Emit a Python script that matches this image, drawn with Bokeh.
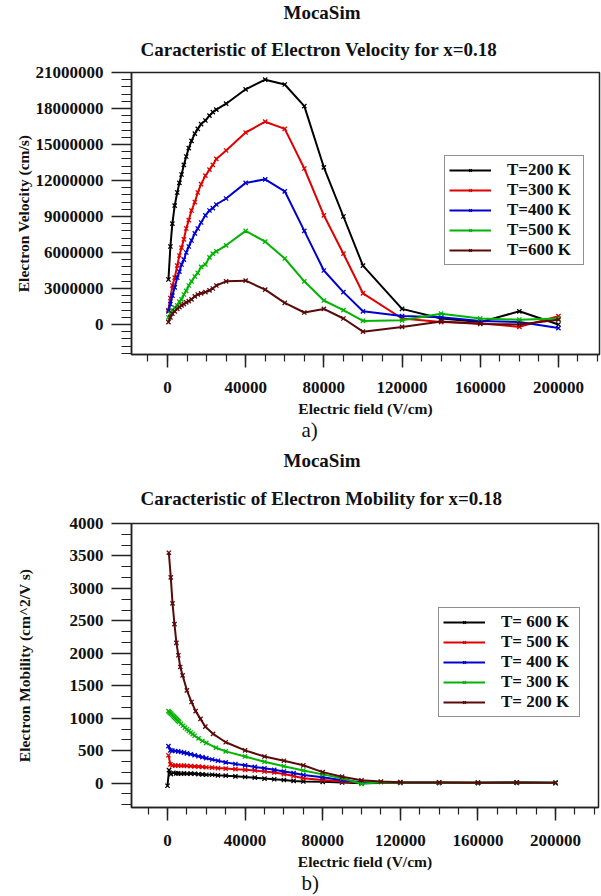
from bokeh.plotting import figure
from bokeh.layouts import column
from bokeh.models import (SingleIntervalTicker, BasicTickFormatter, Legend,
                          LegendItem, Range1d, Title)
from bokeh.embed import file_html
from bokeh.resources import INLINE

FONT = "Liberation Serif"

# ---------------- data: velocity ----------------
vel_field = [500, 1500, 2500, 3700, 5000, 6100, 7200, 8400, 9600, 10900, 12300, 14000,
             15500, 17200, 19400, 21500, 23200, 25000, 30000, 40000, 50000, 60000, 70000,
             80000, 90000, 100000, 120000, 140000, 160000, 180000, 200000]
vel_200 = [3750000, 6500000, 8400000, 9900000, 11000000, 11800000, 12500000, 13300000,
           14000000, 14700000, 15300000, 15900000, 16300000, 16700000, 17000000, 17400000,
           17700000, 17900000, 18400000, 19600000, 20400000, 20000000, 18200000, 13100000,
           9000000, 4900000, 1300000, 500000, 200000, 1100000, 0]
vel_300 = [1200000, 2200000, 3250000, 3900000, 4900000, 5750000, 6400000, 7100000,
           8000000, 8700000, 9500000, 10200000, 11000000, 11700000, 12400000, 12900000,
           13300000, 13800000, 14500000, 16000000, 16900000, 16300000, 13000000, 9100000,
           5900000, 2600000, 500000, 200000, 100000, -200000, 700000]
vel_400 = [1100000, 1700000, 2400000, 3100000, 3900000, 4400000, 5000000, 5400000,
           6000000, 6500000, 7000000, 7600000, 8000000, 8500000, 9100000, 9500000,
           9700000, 10000000, 10500000, 11800000, 12100000, 11100000, 7800000, 4500000,
           2700000, 1100000, 700000, 600000, 300000, 200000, -300000]
vel_500 = [600000, 900000, 1200000, 1400000, 1600000, 1900000, 2100000, 2500000,
           2800000, 3250000, 3600000, 4000000, 4300000, 4800000, 5000000, 5600000,
           5900000, 6100000, 6600000, 7800000, 6900000, 5500000, 3600000, 2000000,
           1200000, 300000, 350000, 900000, 500000, 400000, 500000]
vel_600 = [200000, 600000, 900000, 1100000, 1300000, 1450000, 1600000, 1700000,
           1850000, 1950000, 2100000, 2350000, 2500000, 2600000, 2700000, 2850000,
           3000000, 3250000, 3600000, 3650000, 2900000, 1800000, 1000000, 1300000,
           500000, -600000, -200000, 250000, 50000, 0, 400000]
vel_labels = ["T=200 K", "T=300 K", "T=400 K", "T=500 K", "T=600 K"]

# ---------------- data: mobility ----------------
mob_field_600 = [0, 800, 1800, 3000, 4500, 5500, 7000, 8500, 10000, 12000, 14000, 16000,
                 18000, 20000, 23000, 26000, 30000, 35000, 40000, 45000, 50000, 55000,
                 60000, 65000, 70000, 80000, 90000, 100000, 120000, 140000, 160000,
                 180000, 200000]
mob_600 = [-40, 200, 140, 160, 150, 150, 145, 150, 145, 148, 145, 140, 135, 130, 130,
           120, 115, 105, 95, 85, 70, 60, 48, 35, 25, 20, 10, 0, 5, 5, 3, 5, 3]
mob_field_mid = [500, 1500, 2500, 4000, 5500, 7000, 8500, 10000, 12000, 14000, 16000,
                 18000, 20000, 23000, 26000, 30000, 35000, 40000, 45000, 50000, 55000,
                 60000, 65000, 70000, 80000, 90000, 100000, 120000, 140000, 160000,
                 180000, 200000]
mob_500 = [430, 290, 275, 270, 272, 268, 270, 265, 262, 258, 255, 250, 245, 240, 232,
           225, 215, 205, 195, 180, 165, 140, 110, 75, 50, 25, 10, 8, 5, 5, 8, 4]
mob_400 = [570, 505, 500, 495, 490, 480, 470, 460, 445, 430, 415, 400, 385, 365, 345,
           320, 295, 275, 250, 230, 205, 180, 155, 125, 90, 45, 15, 10, 8, 5, 8, 5]
mob_field_300 = [500, 1000, 1500, 2000, 2500, 3000, 3500, 4000, 4500, 5000, 5500, 6000,
                 7000, 8000, 9000, 10000, 11000, 12000, 13000, 14000, 16000, 18000, 20000,
                 25000, 30000, 40000, 50000, 60000, 70000, 80000, 90000, 100000, 110000,
                 120000, 140000, 160000, 180000, 200000]
mob_300 = [1110, 1095, 1080, 1065, 1050, 1035, 1020, 1005, 990, 975, 960, 945, 915, 885,
           855, 830, 805, 780, 755, 730, 690, 650, 620, 545, 490, 410, 330, 260, 195,
           135, 75, -10, 15, 10, 8, 5, 10, 5]
mob_field_200 = [700, 1700, 2600, 3600, 4600, 5600, 6600, 7800, 10000, 12400, 14500,
                 17000, 19500, 23500, 30000, 40000, 50000, 60000, 70000, 80000, 90000,
                 100000, 110000, 120000, 140000, 160000, 180000, 200000]
mob_200 = [3550, 3170, 2770, 2450, 2160, 1970, 1790, 1660, 1430, 1250, 1110, 990, 870,
           760, 630, 505, 410, 345, 275, 170, 100, 45, 25, 15, 12, 8, 12, 5]
mob_labels = ["T= 600 K", "T= 500 K", "T= 400 K", "T= 300 K", "T= 200 K"]

C_BLACK = "#000000"
C_RED = "#e00000"
C_BLUE = "#0000d0"
C_GREEN = "#00b400"
C_BROWN = "#5a0a0a"
TXT = "#111111"


def make_fig(fw, fh, xr, yr, borders):
    p = figure(frame_width=fw, frame_height=fh, output_backend="svg",
               toolbar_location=None, x_range=Range1d(*xr), y_range=Range1d(*yr))
    p.min_border_left, p.min_border_right, p.min_border_top, p.min_border_bottom = borders
    p.grid.visible = False
    p.outline_line_color = "#222222"
    p.outline_line_width = 1.5
    p.background_fill_color = "white"
    p.border_fill_color = "white"
    return p


def style_axes(p, y_interval, y_minor, xlabel, ylabel, ylabel_standoff):
    xa = p.xaxis[0]
    xa.ticker = SingleIntervalTicker(interval=40000, num_minor_ticks=4)
    xa.formatter = BasicTickFormatter(use_scientific=False)
    xa.major_tick_out = 13
    xa.major_tick_in = 0
    xa.minor_tick_out = 7
    xa.minor_tick_in = 0
    xa.major_label_standoff = 14
    xa.axis_label = xlabel
    xa.axis_label_standoff = 4
    ya = p.yaxis[0]
    ya.ticker = SingleIntervalTicker(interval=y_interval, num_minor_ticks=y_minor)
    ya.formatter = BasicTickFormatter(use_scientific=False)
    ya.major_tick_out = 20
    ya.major_tick_in = 0
    ya.minor_tick_out = 10
    ya.minor_tick_in = 0
    ya.major_label_standoff = 8
    ya.axis_label = ylabel
    ya.axis_label_standoff = ylabel_standoff
    for ax in (xa, ya):
        ax.axis_line_color = "#222222"
        ax.axis_line_width = 1.5
        ax.major_tick_line_color = "#222222"
        ax.major_tick_line_width = 1.5
        ax.minor_tick_line_color = "#222222"
        ax.minor_tick_line_width = 1.2
        ax.major_label_text_font = FONT
        ax.major_label_text_font_style = "bold"
        ax.major_label_text_font_size = "17px"
        ax.major_label_text_color = TXT
        ax.axis_label_text_font = FONT
        ax.axis_label_text_font_style = "bold"
        ax.axis_label_text_font_size = "15.5px"
        ax.axis_label_text_color = TXT


def add_titles(p, main_text, letter, main_standoff):
    t_main = Title(text=main_text, align="left", offset=9, text_font=FONT,
                   text_font_size="19px", text_font_style="bold", text_color=TXT,
                   vertical_align="middle", standoff=main_standoff)
    t_moca = Title(text="MocaSim", align="left", offset=152, text_font=FONT,
                   text_font_size="19px", text_font_style="bold", text_color=TXT,
                   vertical_align="top", standoff=2)
    p.add_layout(t_main, "above")
    p.add_layout(t_moca, "above")
    t_letter = Title(text=letter, align="left", offset=170, text_font=FONT,
                     text_font_size="21px", text_font_style="normal", text_color=TXT,
                     vertical_align="top", standoff=-4)
    p.add_layout(t_letter, "below")


def add_series(p, xs, ys, color):
    r1 = p.line(xs, ys, line_color=color, line_width=2)
    r2 = p.scatter(xs, ys, marker="x", size=6, line_color=color, line_width=1.3)
    return [r1, r2]


def add_legend(p, items, loc, lw):
    leg = Legend(items=items, location=loc, label_text_font=FONT,
                 label_text_font_style="bold", label_text_font_size="17px",
                 label_text_color=TXT,
                 glyph_width=42, glyph_height=10, label_height=10, label_standoff=16,
                 label_width=lw, spacing=0, padding=4, margin=0,
                 border_line_color="#222222", border_line_width=1.5,
                 background_fill_color="white", background_fill_alpha=1.0)
    p.add_layout(leg)


# ---------------- figure a) velocity ----------------
p1 = make_fig(468, 282, (-18400, 221000), (-2500000, 21000000), (131, 2, 72, 94))
style_axes(p1, 3000000, 5, "Electric field (V/cm)", "Electron Velocity (cm/s)", 1)
vel_series = [vel_200, vel_300, vel_400, vel_500, vel_600]
vel_colors = [C_BLACK, C_RED, C_BLUE, C_GREEN, C_BROWN]
items1 = []
for lab, ys, col in zip(vel_labels, vel_series, vel_colors):
    items1.append(LegendItem(label=lab, renderers=add_series(p1, vel_field, ys, col)))
add_legend(p1, items1, (313, 89), 72)
add_titles(p1, "Caracteristic of Electron Velocity for x=0.18", "a)", 24)

# ---------------- figure b) mobility ----------------
p2 = make_fig(467, 284, (-18550, 222150), (-375, 4000), (131, 3, 75, 89))
style_axes(p2, 500, 3, "Electric field (V/cm)", "Electron Mobility (cm^2/V s)", 34)
mob_x = [mob_field_600, mob_field_mid, mob_field_mid, mob_field_300, mob_field_200]
mob_y = [mob_600, mob_500, mob_400, mob_300, mob_200]
items2 = []
for lab, xs, ys, col in zip(mob_labels, mob_x, mob_y, vel_colors):
    items2.append(LegendItem(label=lab, renderers=add_series(p2, xs, ys, col)))
add_legend(p2, items2, (307, 90), 74)
add_titles(p2, "Caracteristic of Electron Mobility for x=0.18", "b)", 27)

layout = column(p1, p2, spacing=0)
open("out.html", "w").write(file_html(layout, INLINE))
